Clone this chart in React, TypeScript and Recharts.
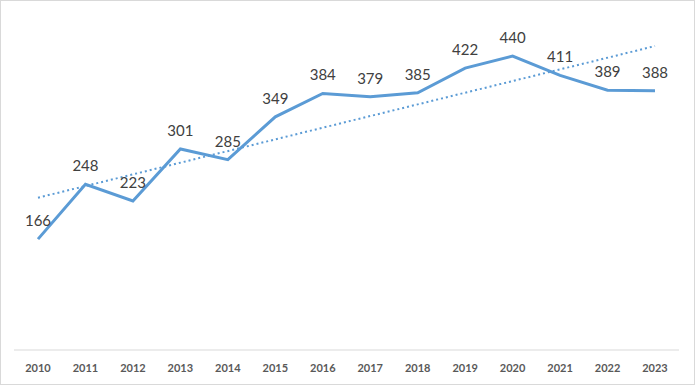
import React from "react";
import { LineChart, Line, XAxis, YAxis, LabelList } from "recharts";

const years = ["2010","2011","2012","2013","2014","2015","2016","2017","2018","2019","2020","2021","2022","2023"];
const values = [166,248,223,301,285,349,384,379,385,422,440,411,389,388];
const trend: (number | null)[] = [228,null,null,null,null,null,null,null,null,null,null,null,null,455];

const data = years.map((y, i) => ({ year: y, value: values[i], trend: trend[i] }));

export default function App() {
  return (
    <div style={{ position: "absolute", left: 0, top: 0, width: 695, height: 385, background: "#fff" }}>
      <LineChart width={695} height={385} data={data} margin={{ top: 16, right: 16, bottom: 5, left: 14 }}>
        <XAxis
          dataKey="year"
          axisLine={{ stroke: "#D9D9D9" }}
          tickLine={false}
          tickSize={0}
          tickMargin={14}
          height={30}
          interval={0}
          padding={{ left: 24, right: 24 }}
          tick={{ fill: "#595959", fontSize: 11, fontWeight: "bold", fontFamily: "Lato, 'Liberation Sans', sans-serif" }}
        />
        <YAxis hide domain={[0, 500]} />
        <Line
          dataKey="trend"
          connectNulls
          stroke="#5B9BD5"
          strokeWidth={2}
          strokeDasharray="2 3"
          dot={false}
          isAnimationActive={false}
        />
        <Line
          dataKey="value"
          stroke="#5B9BD5"
          strokeWidth={3}
          dot={false}
          strokeLinejoin="miter"
          isAnimationActive={false}
        >
          <LabelList
            dataKey="value"
            position="top"
            offset={13}
            fill="#404040"
            fontSize={15}
            fontFamily="Lato, 'Liberation Sans', sans-serif"
          />
        </Line>
      </LineChart>
      <div style={{ position: "absolute", left: 0, top: 0, width: 695, height: 385, boxSizing: "border-box", border: "1px solid #D9D9D9", pointerEvents: "none" }} />
    </div>
  );
}
